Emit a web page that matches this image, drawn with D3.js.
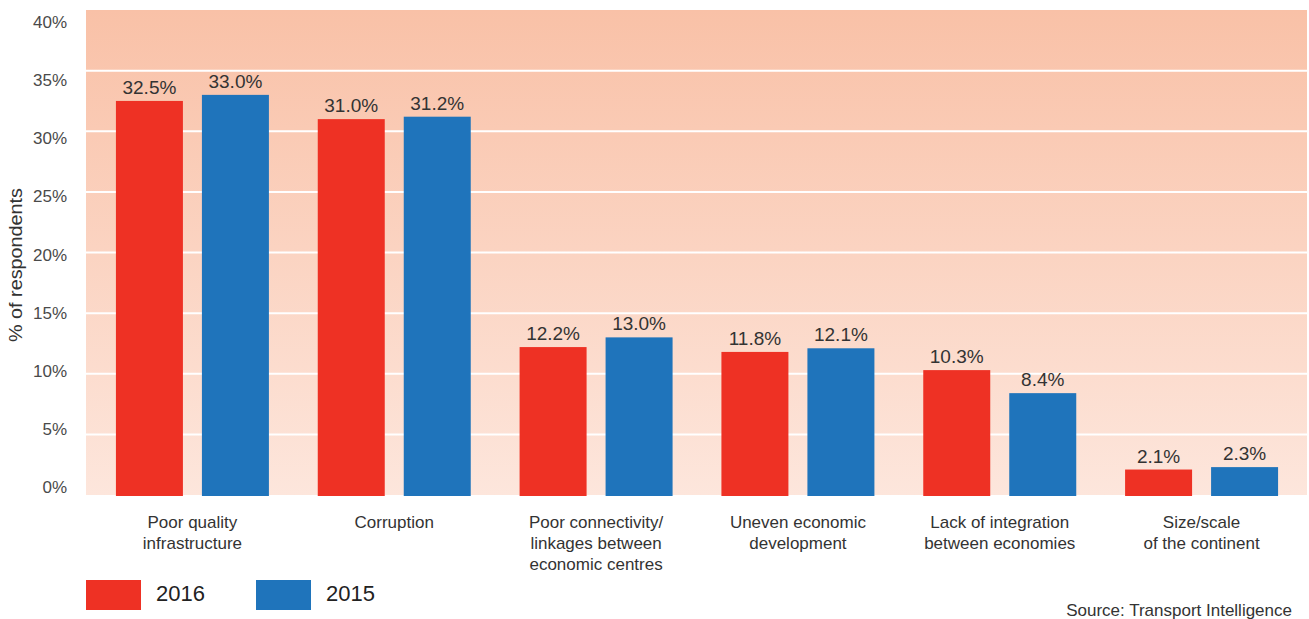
<!DOCTYPE html>
<html>
<head>
<meta charset="utf-8">
<script src="https://cdn.jsdelivr.net/npm/d3@7"></script>
<style>
  html, body { margin: 0; padding: 0; background: #ffffff; }
  svg { display: block; font-family: "Liberation Sans", Arial, Helvetica, sans-serif; }
</style>
</head>
<body>
<svg id="chart" width="1309" height="619"></svg>
<script>
// Obstacles to trade in Africa, % of respondents
const categories = [
  ["Poor quality", "infrastructure"],
  ["Corruption"],
  ["Poor connectivity/", "linkages between", "economic centres"],
  ["Uneven economic", "development"],
  ["Lack of integration", "between economies"],
  ["Size/scale", "of the continent"]
];
const seriesNames = ["2016", "2015"];
const values2016 = [32.5, 31.0, 12.2, 11.8, 10.3, 2.1];
const values2015 = [33.0, 31.2, 13.0, 12.1, 8.4, 2.3];
const yTicks = [0, 5, 10, 15, 20, 25, 30, 35, 40];
const colors = { "2016": "#ee3124", "2015": "#1f74bb" };

const svg = d3.select("#chart");
const plot = { left: 86, right: 1307, top: 10, bottom: 495 };

const catKeys = categories.map((c, i) => i);
const x0 = d3.scaleBand()
  .domain(catKeys)
  .range([91.5, 1302.5])
  .paddingInner(0.242)
  .paddingOuter(0.121);
const x1 = d3.scaleBand()
  .domain(seriesNames)
  .range([0, x0.bandwidth()])
  .paddingInner(0.221);
const y = d3.scaleLinear().domain([0, 40]).range([plot.bottom, plot.top]);
// tick labels sit on a slightly tighter ladder than the gridlines
const yLabel = d3.scaleLinear().domain([0, 40]).range([493, 28]);

// background gradient
const defs = svg.append("defs");
const grad = defs.append("linearGradient")
  .attr("id", "bg").attr("x1", 0).attr("y1", 0).attr("x2", 0).attr("y2", 1);
grad.append("stop").attr("offset", "0%").attr("stop-color", "#f9c1a7");
grad.append("stop").attr("offset", "100%").attr("stop-color", "#fde6dc");

svg.append("rect")
  .attr("x", plot.left).attr("y", plot.top)
  .attr("width", plot.right - plot.left)
  .attr("height", plot.bottom - plot.top)
  .attr("fill", "url(#bg)");

// gridlines
svg.append("g").selectAll("line")
  .data(yTicks.filter(t => t > 0 && t < 40))
  .join("line")
  .attr("x1", plot.left).attr("x2", plot.right)
  .attr("y1", d => y(d)).attr("y2", d => y(d))
  .attr("stroke", "#ffffff").attr("stroke-width", 2);

// y tick labels
svg.append("g").selectAll("text")
  .data(yTicks)
  .join("text")
  .attr("x", 67)
  .attr("y", d => yLabel(d))
  .attr("text-anchor", "end")
  .attr("font-size", 17)
  .attr("fill", "#4a4a4a")
  .text(d => d + "%");

// y axis title
svg.append("text")
  .attr("transform", "translate(22,265) rotate(-90)")
  .attr("text-anchor", "middle")
  .attr("font-size", 18)
  .attr("textLength", 154)
  .attr("lengthAdjust", "spacingAndGlyphs")
  .attr("fill", "#333")
  .text("% of respondents");

// bars
const rows = catKeys.map(i => ({
  i,
  vals: [
    { key: "2016", v: values2016[i] },
    { key: "2015", v: values2015[i] }
  ]
}));

const groups = svg.append("g").selectAll("g")
  .data(rows)
  .join("g")
  .attr("transform", d => "translate(" + x0(d.i) + ",0)");

groups.selectAll("rect")
  .data(d => d.vals)
  .join("rect")
  .attr("x", d => x1(d.key))
  .attr("y", d => y(d.v))
  .attr("width", x1.bandwidth())
  .attr("height", d => y(0) - y(d.v) + 1)
  .attr("fill", d => colors[d.key]);

groups.selectAll("text.val")
  .data(d => d.vals)
  .join("text")
  .attr("class", "val")
  .attr("x", d => x1(d.key) + x1.bandwidth() / 2)
  .attr("y", d => y(d.v) - 7)
  .attr("text-anchor", "middle")
  .attr("font-size", 19)
  .attr("fill", "#333")
  .text(d => d.v.toFixed(1) + "%");

// category labels
svg.append("g").selectAll("text")
  .data(rows)
  .join("text")
  .attr("x", d => x0(d.i) + x0.bandwidth() / 2)
  .attr("y", 528)
  .attr("text-anchor", "middle")
  .attr("font-size", 17)
  .attr("fill", "#333")
  .each(function (d) {
    const t = d3.select(this);
    categories[d.i].forEach((line, k) => {
      t.append("tspan")
        .attr("x", x0(d.i) + x0.bandwidth() / 2)
        .attr("dy", k === 0 ? 0 : 21)
        .text(line);
    });
  });

// legend
const legend = svg.append("g");
const legendX = d3.scaleOrdinal().domain(seriesNames).range([86, 256]);
seriesNames.forEach(s => {
  legend.append("rect")
    .attr("x", legendX(s)).attr("y", 580)
    .attr("width", 55).attr("height", 30)
    .attr("fill", colors[s]);
  legend.append("text")
    .attr("x", legendX(s) + 70).attr("y", 601)
    .attr("font-size", 22)
    .attr("fill", "#222")
    .text(s);
});

// source note
svg.append("text")
  .attr("x", 1292).attr("y", 616)
  .attr("text-anchor", "end")
  .attr("font-size", 17)
  .attr("fill", "#333")
  .text("Source: Transport Intelligence");
</script>
</body>
</html>
